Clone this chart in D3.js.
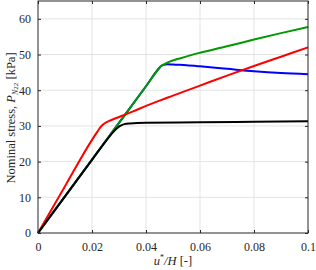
<!DOCTYPE html>
<html>
<head>
<meta charset="utf-8">
<script src="https://cdn.jsdelivr.net/npm/d3@7"></script>
<style>
  body { margin: 0; background: #fff; }
  text { font-family: "Liberation Serif", "DejaVu Serif", serif; fill: #262626; }
  .grid line { stroke: #e3e3e3; stroke-width: 1; }
  .curve { fill: none; stroke-width: 2; stroke-linejoin: round; }
</style>
</head>
<body>
<script>
// strain u*/H and nominal stress [kPa]
let greenData = [[0, 0], [0.01, 10.28], [0.02, 20.56], [0.03, 30.84], [0.04, 41.12], [0.045, 46.3], [0.0455, 46.7],
                 [0.047, 47.4], [0.049, 48.1], [0.052, 48.8], [0.056, 49.7],
                 [0.06, 50.5], [0.07, 52.3], [0.08, 54.2], [0.09, 56.0], [0.1, 57.7]];
let blueData = [[0, 0], [0.01, 10.28], [0.02, 20.56], [0.03, 30.84], [0.04, 41.12], [0.045, 46.3], [0.0455, 46.7],
                [0.0465, 47.1], [0.048, 47.3], [0.05, 47.2], [0.055, 47.0],
                [0.06, 46.7], [0.07, 46.0], [0.08, 45.3], [0.09, 44.8], [0.1, 44.5]];
let redData = [[0, 0], [0.01, 13.1], [0.02, 26.1], [0.022, 28.4], [0.023, 29.5], [0.024, 30.3], [0.025, 30.9],
               [0.027, 31.6], [0.03, 32.5], [0.035, 34.0], [0.04, 35.6], [0.045, 37.1], [0.05, 38.5],
               [0.06, 41.3], [0.07, 44.1], [0.08, 46.8], [0.09, 49.4], [0.1, 52.0]];
let blackData = [[0, 0], [0.01, 10.25], [0.02, 20.5], [0.026, 26.6], [0.028, 28.4], [0.029, 29.2], [0.03, 29.8],
                 [0.031, 30.2], [0.032, 30.5], [0.034, 30.7], [0.04, 30.9], [0.06, 31.0], [0.08, 31.15], [0.1, 31.3]];

let xTicks = [0, 0.02, 0.04, 0.06, 0.08, 0.1];
let yTicks = [0, 10, 20, 30, 40, 50, 60];

// drawing order: first one is at the bottom
let series = [
  { data: blueData, color: '#0000ff' },
  { data: greenData, color: '#009900' },
  { data: redData, color: '#ff0000' },
  { data: blackData, color: '#000000' }
];

let margin = { top: 1, right: 8, bottom: 37, left: 38 };
let svgWidth = 316;
let svgHeight = 270;
let width = svgWidth - margin.left - margin.right;
let height = svgHeight - margin.top - margin.bottom;

let svg = d3.select('body').append('svg')
  .attr('width', svgWidth)
  .attr('height', svgHeight);

let canvas = svg.append('g')
  .attr('transform', 'translate(' + margin.left + ',' + margin.top + ')');

let xScale = d3.scaleLinear().domain([0, 0.1]).range([0, width]);
let yScale = d3.scaleLinear().domain([0, 65]).range([height, 0]);

// grid
let grid = canvas.append('g').attr('class', 'grid');
grid.selectAll('.gx').data(xTicks.slice(1, -1)).enter().append('line')
  .attr('x1', d => xScale(d)).attr('x2', d => xScale(d))
  .attr('y1', 0).attr('y2', height);
grid.selectAll('.gy').data(yTicks.slice(1)).enter().append('line')
  .attr('x1', 0).attr('x2', width)
  .attr('y1', d => yScale(d)).attr('y2', d => yScale(d));

// curves
let line = d3.line()
  .x(d => xScale(d[0]))
  .y(d => yScale(d[1]))
  .curve(d3.curveMonotoneX);

canvas.append('g')
  .selectAll('path').data(series).enter().append('path')
  .attr('class', 'curve')
  .attr('stroke', d => d.color)
  .attr('d', d => line(d.data));

// axes, ticks pointing inward (also on top and right)
let fmtX = d => d === 0 ? '0' : String(+d.toFixed(2));
let axisStyle = g => {
  g.select('.domain').remove();
  g.selectAll('.tick line').attr('stroke', '#262626');
  g.selectAll('.tick text').style('font-size', '12px')
    .style('font-family', '"Liberation Serif", "DejaVu Serif", serif').attr('fill', '#262626');
};

canvas.append('g')
  .attr('transform', 'translate(0,' + height + ')')
  .call(d3.axisBottom(xScale).tickValues(xTicks).tickFormat(fmtX).tickSizeInner(-3).tickSizeOuter(0).tickPadding(9))
  .call(axisStyle);
canvas.append('g')
  .call(d3.axisTop(xScale).tickValues(xTicks).tickFormat('').tickSizeInner(-3).tickSizeOuter(0))
  .call(axisStyle);
canvas.append('g')
  .call(d3.axisLeft(yScale).tickValues(yTicks).tickSizeInner(-3).tickSizeOuter(0).tickPadding(7))
  .call(axisStyle);
canvas.append('g')
  .attr('transform', 'translate(' + width + ',0)')
  .call(d3.axisRight(yScale).tickValues(yTicks).tickFormat('').tickSizeInner(-3).tickSizeOuter(0))
  .call(axisStyle);

canvas.append('rect')
  .attr('x', 0).attr('y', 0)
  .attr('width', width).attr('height', height)
  .attr('fill', 'none')
  .attr('stroke', '#262626')
  .attr('stroke-width', 1);

// x label: u*/H [-]
let xl = svg.append('text')
  .attr('x', margin.left + width / 2)
  .attr('y', 265)
  .attr('text-anchor', 'middle')
  .style('font-size', '12.5px');
xl.append('tspan').style('font-style', 'italic').text('u');
xl.append('tspan').attr('dy', -5).style('font-size', '8px').text('*');
xl.append('tspan').attr('dy', 5).style('font-style', 'italic').text('/H');
xl.append('tspan').text(' [-]');

// y label: Nominal stress, P_N22 [kPa]
let yl = svg.append('text')
  .attr('transform', 'translate(15,' + (margin.top + 117) + ') rotate(-90)')
  .attr('text-anchor', 'middle')
  .style('font-size', '12.5px');
yl.append('tspan').text('Nominal stress, ');
yl.append('tspan').style('font-style', 'italic').text('P');
yl.append('tspan').attr('dy', 3).style('font-size', '8px').style('font-style', 'italic').text('N');
yl.append('tspan').style('font-size', '7px').text('22');
yl.append('tspan').attr('dy', -3).text(' [kPa]');
</script>
</body>
</html>
